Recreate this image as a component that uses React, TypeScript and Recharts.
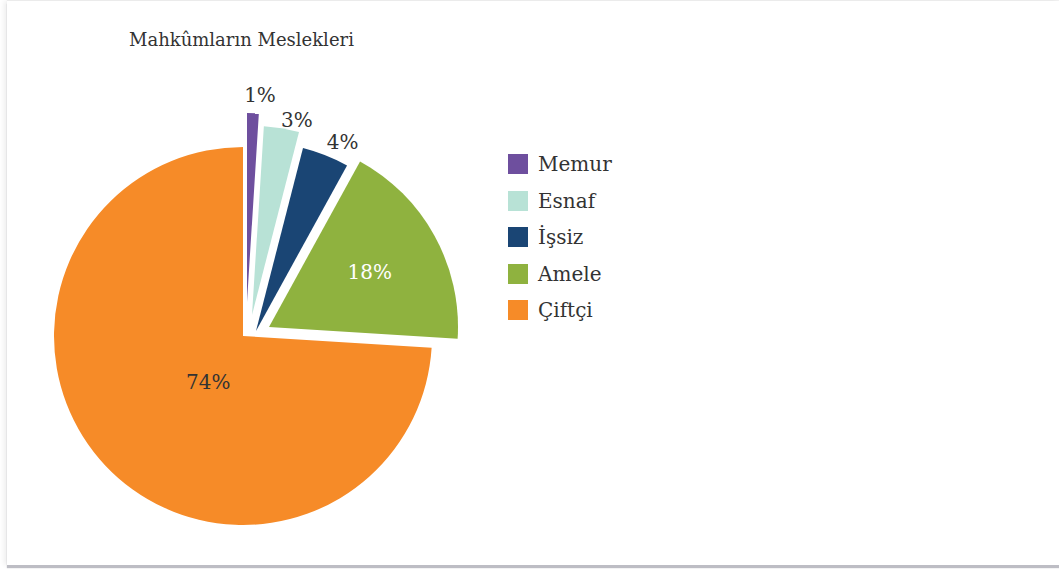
import React from "react";
import { PieChart, Pie, Cell, Sector, Legend } from "recharts";

const CATEGORIES = ["Memur", "Esnaf", "İşsiz", "Amele", "Çiftçi"];
const SHARES = [1, 3, 4, 18, 74];
const COLORS = ["#6e4f9e", "#b8e2d6", "#1a4574", "#8fb23f", "#f68b28"];
const LABEL_COLORS = ["#333", "#333", "#333", "#ffffff", "#333"];

// pulled-out slices, [dx, dy] in px
const EXPLODE: [number, number][] = [
  [4, -34],
  [9, -21],
  [13, -5],
  [26, -9],
  [0, 0],
];
// label distance from slice tip and angle nudge (deg, clockwise)
const LABEL_R = [207, 200, 208, 115, 58];
const LABEL_SHIFT = [1.8, 4, 3, 0, -10];

const FONT = "'DejaVu Serif', serif";

const data = CATEGORIES.map((name, i) => ({ name, value: SHARES[i] }));

const idx = (name: string) => CATEGORIES.indexOf(name);

const ExplodedSlice = (props: any) => {
  const i = idx(props.name ?? props.payload?.name);
  const [dx, dy] = EXPLODE[i] || [0, 0];
  return <Sector {...props} cx={props.cx + dx} cy={props.cy + dy} fill={COLORS[i]} stroke="none" />;
};

const RAD = Math.PI / 180;

const renderLabel = (props: any) => {
  const i = idx(props.name ?? props.payload?.name);
  const [dx, dy] = EXPLODE[i];
  const a = (props.midAngle - LABEL_SHIFT[i]) * RAD;
  const x = props.cx + dx + LABEL_R[i] * Math.cos(a);
  const y = props.cy + dy - LABEL_R[i] * Math.sin(a);
  return (
    <text
      x={x}
      y={y}
      textAnchor="middle"
      dominantBaseline="central"
      fill={LABEL_COLORS[i]}
      fontFamily={FONT}
      fontSize={20}
    >
      {`${SHARES[i]}%`}
    </text>
  );
};

const LegendBox = () => (
  <div style={{ fontFamily: FONT, fontSize: 20, color: "#333" }}>
    {CATEGORIES.map((c, i) => (
      <div key={c} style={{ display: "flex", alignItems: "center", height: 36.5 }}>
        <div style={{ width: 20, height: 20, background: COLORS[i], marginRight: 10 }} />
        <span>{c}</span>
      </div>
    ))}
  </div>
);

export default function App() {
  return (
    <div style={{ position: "absolute", left: 0, top: 0, width: 1059, height: 569, background: "#fff" }}>
      <div
        style={{
          position: "absolute",
          left: 7,
          top: 1,
          width: 1052,
          height: 564,
          background: "#fff",
          boxShadow: "0 3px 1px #bdbdc4, -3px 0 5px rgba(0,0,0,0.07), 0 -1px 1px rgba(0,0,0,0.05)",
        }}
      />
      <div
        style={{
          position: "absolute",
          left: 129,
          top: 29,
          fontFamily: FONT,
          fontSize: 18,
          color: "#333",
          whiteSpace: "nowrap",
        }}
      >
        Mahkûmların Meslekleri
      </div>
      <div style={{ position: "absolute", left: 0, top: 0 }}>
        <PieChart width={1059} height={569} margin={{ top: 0, right: 0, bottom: 0, left: 0 }}>
          <Pie
            data={data}
            dataKey="value"
            nameKey="name"
            cx={243}
            cy={336}
            outerRadius={189}
            startAngle={90}
            endAngle={-270}
            stroke="none"
            shape={ExplodedSlice}
            label={renderLabel}
            labelLine={false}
            isAnimationActive={false}
          >
            {data.map((d, i) => (
              <Cell key={d.name} fill={COLORS[i]} />
            ))}
          </Pie>
          <Legend
            layout="vertical"
            content={() => <LegendBox />}
            wrapperStyle={{ position: "absolute", left: 508, top: 146, width: 200 }}
          />
        </PieChart>
      </div>
    </div>
  );
}
